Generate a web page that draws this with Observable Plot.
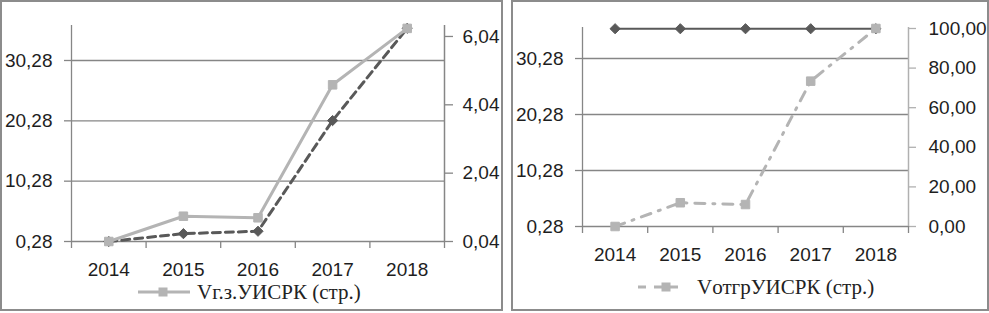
<!DOCTYPE html>
<html>
<head>
<meta charset="utf-8">
<script src="https://cdn.jsdelivr.net/npm/d3@7"></script>
<script src="https://cdn.jsdelivr.net/npm/@observablehq/plot@0.6"></script>
<style>
  html, body { margin: 0; padding: 0; background: #fff; }
  body { width: 989px; height: 313px; position: relative; overflow: hidden; font-family: "Liberation Sans", Arial, sans-serif; }
  .panel { position: absolute; top: 0; height: 311px; }
  .panel svg.plot { position: absolute; left: 0; top: 0; }
  .frame { position: absolute; inset: 0; border: 2px solid #8c8c8c; box-sizing: border-box; pointer-events: none; }
  .legend { position: absolute; display: flex; align-items: center; font-family: "Liberation Serif", "Times New Roman", serif; font-size: 21px; color: #222; white-space: nowrap; }
</style>
</head>
<body>
<div id="panelA" class="panel" style="left:0;width:503px;"></div>
<div id="panelB" class="panel" style="left:511px;width:478px;"></div>
<script>
// ---------- data ----------
const years = [2014, 2015, 2016, 2017, 2018];

// Left chart
const vgzValues = [0.28, 4.47, 4.21, 26.25, 35.6];      // grey squares, left axis
const darkValuesA = [0.04, 0.27, 0.34, 3.58, 6.28];     // dark diamonds, right axis
const leftTicksA = [0.28, 10.28, 20.28, 30.28];
const rightTicksA = [0.04, 2.04, 4.04, 6.04];
const legendLabelA = "Vг.з.УИСРК (стр.)";

// Right chart
const darkValuesB = [35.6, 35.6, 35.6, 35.6, 35.6];      // dark diamonds, left axis
const votgrValues = [0, 12.0, 11.1, 73.4, 100];          // grey squares, right axis
const leftTicksB = [0.28, 10.28, 20.28, 30.28];
const rightTicksB = [0, 20, 40, 60, 80, 100];
const legendLabelB = "VотгрУИСРК (стр.)";

// ---------- helpers ----------
const fmt = v => v.toFixed(2).replace(".", ",");
const grid = "#868686";
const textCol = "#1e1e1e";
const grey = "#b4b4b4";
const dark = "#595959";
const FS = 19;
const boundaries = d3.range(years.length + 1).map(i => years[0] - 0.5 + i);

function panel(cfg) {
  const sec = d3.scaleLinear().domain(cfg.secDomain).range(cfg.yDomain);
  const secInv = sec.invert;
  const primRows = years.map((y, i) => ({year: y, v: cfg.prim[i]}));
  const secRows = years.map((y, i) => ({year: y, v: sec(cfg.sec[i])}));
  const rightTickPos = cfg.rightTicks.map(t => sec(t));
  const marks = [
    Plot.gridY(cfg.leftTicks, {stroke: grid, strokeOpacity: 1, strokeWidth: 1.3}),
    Plot.ruleX([boundaries[0]], {stroke: grid, strokeWidth: 1.3}),
    Plot.ruleX([boundaries[boundaries.length - 1]], {stroke: cfg.rightAxisColor, strokeWidth: 1.5}),
    Plot.axisY(cfg.leftTicks, {anchor: "left", label: null, tickSize: 7, tickPadding: 12, stroke: grid, strokeWidth: 1.3, fill: textCol, tickFormat: fmt, fontSize: FS}),
    Plot.axisY(rightTickPos, {anchor: "right", label: null, tickSize: cfg.rightTickSize, tickPadding: cfg.rightPad, stroke: cfg.rightAxisColor, strokeWidth: 1.3, fill: textCol, tickFormat: p => fmt(secInv(p)), fontSize: FS}),
    Plot.axisX(boundaries, {label: null, tickSize: 7, stroke: grid, strokeWidth: 1.3, tickFormat: () => ""}),
    Plot.axisX(years, {label: null, tickSize: 0, tickPadding: 21, fill: textCol, tickFormat: d => String(d), fontSize: FS})
  ];
  const greyRows = cfg.greyIsPrimary ? primRows : secRows;
  const darkRows = cfg.greyIsPrimary ? secRows : primRows;
  marks.push(
    Plot.line(darkRows, {x: "year", y: "v", stroke: dark, strokeWidth: cfg.darkWidth, strokeDasharray: cfg.darkDash}),
    Plot.dot(darkRows, {x: "year", y: "v", symbol: "diamond2", r: 4.6, fill: dark, stroke: dark, strokeWidth: 1}),
    Plot.line(greyRows, {x: "year", y: "v", stroke: grey, strokeWidth: cfg.greyWidth, strokeDasharray: cfg.greyDash}),
    Plot.dot(greyRows, {x: "year", y: "v", symbol: "square", r: 4.8, fill: grey, stroke: grey, strokeWidth: 1})
  );
  return Plot.plot({
    width: cfg.width,
    height: cfg.height,
    marginLeft: cfg.ml,
    marginRight: cfg.mr,
    marginTop: cfg.mt,
    marginBottom: cfg.mb,
    style: {fontFamily: "'Liberation Sans', Arial, sans-serif", fontSize: FS + "px", background: "transparent", overflow: "visible"},
    x: {type: "linear", domain: [boundaries[0], boundaries[boundaries.length - 1]], axis: null},
    y: {type: "linear", domain: cfg.yDomain, axis: null},
    marks
  });
}

function legend(el, cfg) {
  const d = document.createElement("div");
  d.className = "legend";
  d.style.left = cfg.left + "px";
  d.style.top = cfg.top + "px";
  d.style.height = "24px";
  const w = cfg.swatchW;
  const sw = `<svg width="${w}" height="24" style="margin-right:${cfg.gap}px;overflow:visible">
    <line x1="0" x2="${w}" y1="12" y2="12" stroke="${grey}" stroke-width="${cfg.lineW}" ${cfg.dash ? `stroke-dasharray="${cfg.dash}"` : ""}/>
    <rect x="${cfg.sq - 4.5}" y="7.5" width="9" height="9" fill="${grey}"/>
  </svg>`;
  d.innerHTML = sw + `<span>${cfg.label}</span>`;
  el.appendChild(d);
}

// ---------- panel A ----------
const elA = document.getElementById("panelA");
const svgA = panel({
  width: 503, height: 280, ml: 71, mr: 59, mt: 25, mb: 39,
  yDomain: [0.28, 36.08], secDomain: [0.04, 6.361],
  prim: vgzValues, sec: darkValuesA, greyIsPrimary: true,
  leftTicks: leftTicksA, rightTicks: rightTicksA,
  rightAxisColor: grid, rightTickSize: 8, rightPad: 10,
  darkWidth: 3, darkDash: "8,5", greyWidth: 3, greyDash: null
});
svgA.classList.add("plot");
elA.appendChild(svgA);
legend(elA, {left: 138, top: 280, swatchW: 52, sq: 25, gap: 7, lineW: 3, dash: null, label: legendLabelA});
const fA = document.createElement("div"); fA.className = "frame"; elA.appendChild(fA);

// ---------- panel B ----------
const elB = document.getElementById("panelB");
const svgB = panel({
  width: 478, height: 265, ml: 71, mr: 81, mt: 27, mb: 39,
  yDomain: [0.28, 35.82], secDomain: [0, 100.5],
  prim: darkValuesB, sec: votgrValues, greyIsPrimary: false,
  leftTicks: leftTicksB, rightTicks: rightTicksB,
  rightAxisColor: "#b0b0b0", rightTickSize: 7, rightPad: 13,
  darkWidth: 2, darkDash: null, greyWidth: 3, greyDash: "10,8,2,8"
});
svgB.classList.add("plot");
elB.appendChild(svgB);
legend(elB, {left: 127, top: 275, swatchW: 44, sq: 28, gap: 15, lineW: 3, dash: "8,8", label: legendLabelB});
const fB = document.createElement("div"); fB.className = "frame"; elB.appendChild(fB);
</script>
</body>
</html>
